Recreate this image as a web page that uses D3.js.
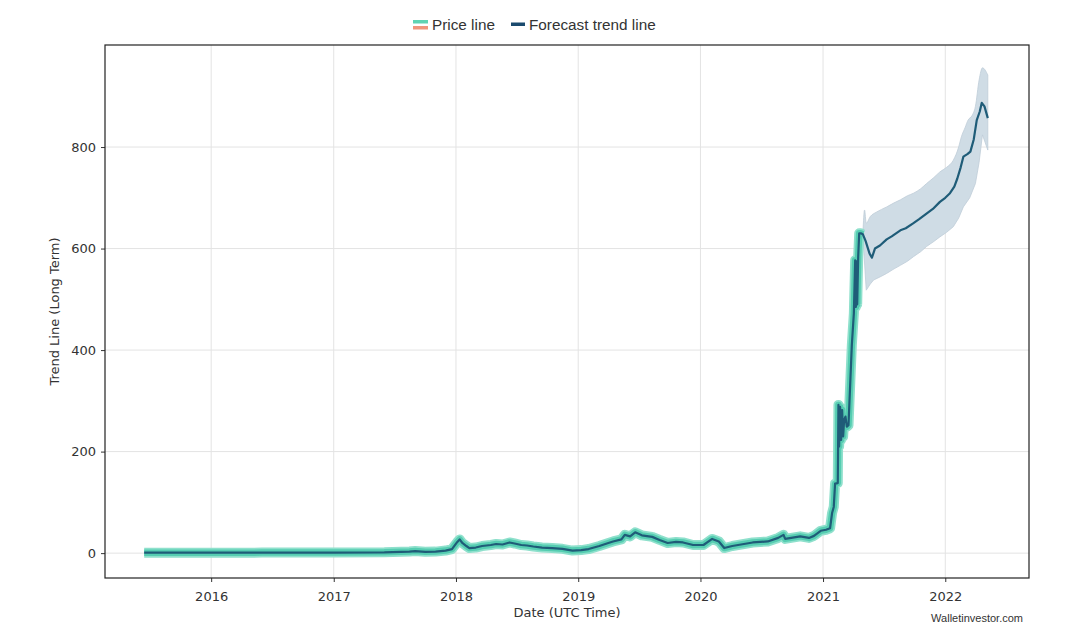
<!DOCTYPE html>
<html>
<head>
<meta charset="utf-8">
<script src="https://cdn.jsdelivr.net/npm/d3@7"></script>
<style>
  html, body { margin: 0; padding: 0; background: #ffffff; }
  svg { display: block; }
</style>
</head>
<body>
<svg id="chart" width="1065" height="638"></svg>
<script>
// ---------- DATA ----------
const priceDates = [
  "2015-06-15","2015-09-01","2016-01-01","2016-06-01","2017-01-01","2017-06-01",
  "2017-08-15","2017-09-01","2017-10-01","2017-11-01","2017-12-01","2017-12-20",
  "2018-01-05","2018-01-12","2018-01-20","2018-02-01","2018-02-10","2018-03-01",
  "2018-03-20","2018-04-15","2018-05-01","2018-05-20","2018-06-10","2018-06-25",
  "2018-07-15","2018-08-01","2018-08-20","2018-09-15","2018-10-15","2018-11-15",
  "2018-12-15","2019-01-10","2019-02-01","2019-03-05","2019-04-01","2019-04-15",
  "2019-05-10","2019-05-20","2019-06-05","2019-06-20","2019-07-10","2019-08-10",
  "2019-09-01","2019-09-25","2019-10-20","2019-11-10","2019-12-10","2020-01-10",
  "2020-02-05","2020-02-25","2020-03-12","2020-04-05","2020-05-01","2020-06-05",
  "2020-07-20","2020-08-20","2020-09-05","2020-09-10","2020-10-25","2020-11-20",
  "2020-12-05","2020-12-25","2021-01-10","2021-01-22","2021-01-28","2021-02-02",
  "2021-02-06","2021-02-14","2021-02-16","2021-02-18","2021-02-21","2021-02-24",
  "2021-02-27","2021-03-02","2021-03-05","2021-03-09","2021-03-13","2021-03-18",
  "2021-03-24","2021-03-28","2021-04-03","2021-04-07","2021-04-09","2021-04-11",
  "2021-04-13","2021-04-16","2021-04-19","2021-04-24","2021-04-30"
];
const priceValues = [
  0.8, 0.8, 0.9, 1, 1, 1.5,
  3, 4, 2.5, 3, 5, 8,
  22, 27, 20, 14, 10, 11,
  14, 16, 18, 17, 21, 19,
  16, 15, 13, 11, 10, 8.5,
  5, 6, 8, 14, 20, 23,
  27, 36, 33, 41, 35, 32,
  26, 20, 22, 21, 16, 16,
  28, 23, 10, 14, 17, 21,
  23, 30, 36, 28, 33, 30,
  34, 44, 46, 49, 79, 91,
  137, 138, 292, 210, 288, 223,
  282, 230, 262, 269, 249, 252,
  347, 410, 472, 577, 485, 575,
  490, 584, 630, 630, 628
];

const forecastDates = [
  "2021-04-30","2021-05-08","2021-05-20","2021-05-27","2021-06-05","2021-06-20",
  "2021-07-10","2021-07-25","2021-08-20","2021-09-05","2021-09-28","2021-10-15",
  "2021-11-06","2021-11-25","2021-12-16","2022-01-01","2022-01-15","2022-01-28",
  "2022-02-06","2022-02-16","2022-02-24","2022-03-08","2022-03-17","2022-03-27",
  "2022-04-05","2022-04-14","2022-04-20","2022-04-28","2022-05-08"
];
const forecastValues = [
  628, 615, 590, 582, 600, 606,
  618, 624, 636, 640, 650, 658,
  669, 678, 692, 700, 709, 722,
  738, 760, 781, 786, 791, 815,
  853, 870, 887, 880, 857
];

const bandUpperDates = [
  "2021-04-30","2021-05-05","2021-05-10","2021-05-22","2021-06-10","2021-07-10",
  "2021-08-01","2021-08-20","2021-09-10","2021-09-28","2021-10-20","2021-11-06",
  "2021-11-28","2021-12-16","2022-01-05","2022-01-25","2022-02-10","2022-02-18",
  "2022-03-01","2022-03-10","2022-03-22","2022-04-01","2022-04-12","2022-04-22",
  "2022-05-08"
];
const bandUpper = [
  630, 676, 650, 663, 672, 682,
  690, 696, 704, 709, 718, 728,
  740, 751, 760, 774, 800, 820,
  838, 853, 862, 880, 932, 956,
  942
];
const bandLowerDates = [
  "2021-04-30","2021-05-10","2021-05-22","2021-06-01","2021-06-20","2021-07-10",
  "2021-08-01","2021-08-20","2021-09-10","2021-09-28","2021-10-20","2021-11-06",
  "2021-11-28","2021-12-16","2022-01-05","2022-01-25","2022-02-10","2022-02-24",
  "2022-03-15","2022-04-01","2022-04-12","2022-04-22","2022-05-08"
];
const bandLower = [
  625, 518, 530, 538, 544, 551,
  560, 567, 575, 584, 594, 604,
  614, 623, 632, 643, 660, 682,
  700, 728, 770, 824, 794
];

const yTicks = [0, 200, 400, 600, 800];
const xTickYears = [2016, 2017, 2018, 2019, 2020, 2021, 2022];

// ---------- LAYOUT ----------
const svg = d3.select("#chart");
const M = { left: 105, right: 1029, top: 45, bottom: 578 };
const parse = d3.utcParse("%Y-%m-%d");

const x = d3.scaleUtc()
  .domain([parse("2015-02-18"), parse("2022-09-08")])
  .range([M.left, M.right]);
const y = d3.scaleLinear()
  .domain([-49, 1001])
  .range([M.bottom, M.top]);

const tickFont = "'DejaVu Sans', sans-serif";

// gridlines
const grid = svg.append("g");
grid.selectAll("line.vg").data(xTickYears).join("line")
  .attr("x1", d => x(Date.UTC(d, 0, 1))).attr("x2", d => x(Date.UTC(d, 0, 1)))
  .attr("y1", M.top).attr("y2", M.bottom)
  .attr("stroke", "#e3e3e3").attr("stroke-width", 1);
grid.selectAll("line.hg").data(yTicks).join("line")
  .attr("y1", d => y(d)).attr("y2", d => y(d))
  .attr("x1", M.left).attr("x2", M.right)
  .attr("stroke", "#e3e3e3").attr("stroke-width", 1);

// clip
svg.append("clipPath").attr("id", "clip").append("rect")
  .attr("x", M.left).attr("y", M.top)
  .attr("width", M.right - M.left).attr("height", M.bottom - M.top);
const plot = svg.append("g").attr("clip-path", "url(#clip)");

// confidence band: upper edge forward, lower edge backward
const upperPts = bandUpperDates.map((d, i) => [x(parse(d)), y(bandUpper[i])]);
const lowerPts = bandLowerDates.map((d, i) => [x(parse(d)), y(bandLower[i])]).reverse();
const edge = d3.line().curve(d3.curveMonotoneX);
const edgeRev = d3.line().curve(d3.curveLinear);
const bandPath = edge(upperPts) + "L" + edgeRev(lowerPts).slice(1) + "Z";
plot.append("path")
  .attr("d", bandPath)
  .attr("fill", "#cfdce5")
  .attr("stroke", "#bfcdd8")
  .attr("stroke-width", 0.8);

// price line (teal halo)
const priceData = priceDates.map((d, i) => ({ date: parse(d), v: priceValues[i] }));
const lineGen = d3.line().x(d => x(d.date)).y(d => y(d.v));
plot.append("path")
  .datum(priceData)
  .attr("d", lineGen)
  .attr("fill", "none")
  .attr("stroke", "#8fe0cc")
  .attr("stroke-width", 10)
  .attr("stroke-linejoin", "round");
plot.append("path")
  .datum(priceData)
  .attr("d", lineGen)
  .attr("fill", "none")
  .attr("stroke", "#55cdb1")
  .attr("stroke-width", 6.5)
  .attr("stroke-linejoin", "round");

// trend line over history + forecast
const trendData = priceData.concat(
  forecastDates.slice(1).map((d, i) => ({ date: parse(d), v: forecastValues[i + 1] }))
);
plot.append("path")
  .datum(trendData)
  .attr("d", lineGen)
  .attr("fill", "none")
  .attr("stroke", "#1f5c78")
  .attr("stroke-width", 2.2)
  .attr("stroke-linejoin", "round");

// axes
const xAxis = d3.axisBottom(x)
  .tickValues(xTickYears.map(yr => new Date(Date.UTC(yr, 0, 1))))
  .tickFormat(d3.utcFormat("%Y"))
  .tickSize(4).tickSizeOuter(0);
const gx = svg.append("g").attr("transform", `translate(0,${M.bottom})`).call(xAxis);
gx.select(".domain").remove();
gx.selectAll("line").attr("stroke", "#333");
gx.selectAll("text").attr("font-family", tickFont).attr("font-size", 13)
  .attr("fill", "#333").attr("dy", "1.2em");

const yAxis = d3.axisLeft(y).tickValues(yTicks).tickFormat(d3.format("d"))
  .tickSize(4).tickSizeOuter(0);
const gy = svg.append("g").attr("transform", `translate(${M.left},0)`).call(yAxis);
gy.select(".domain").remove();
gy.selectAll("line").attr("stroke", "#333");
gy.selectAll("text").attr("font-family", tickFont).attr("font-size", 13)
  .attr("fill", "#333").attr("x", -9);

// frame
svg.append("rect")
  .attr("x", M.left).attr("y", M.top)
  .attr("width", M.right - M.left).attr("height", M.bottom - M.top)
  .attr("fill", "none").attr("stroke", "#222").attr("stroke-width", 1.2);

// axis titles
svg.append("text")
  .attr("x", (M.left + M.right) / 2).attr("y", 617)
  .attr("text-anchor", "middle")
  .attr("font-family", tickFont).attr("font-size", 13).attr("fill", "#333")
  .text("Date (UTC Time)");
svg.append("text")
  .attr("transform", `translate(59,${(M.top + M.bottom) / 2}) rotate(-90)`)
  .attr("text-anchor", "middle")
  .attr("font-family", tickFont).attr("font-size", 13).attr("fill", "#333")
  .text("Trend Line (Long Term)");

// legend
const legFont = "'Liberation Sans', Arial, sans-serif";
const leg = svg.append("g");
leg.append("rect").attr("x", 413).attr("y", 20).attr("width", 15).attr("height", 3.5).attr("fill", "#5fd3b3");
leg.append("rect").attr("x", 413).attr("y", 26).attr("width", 15).attr("height", 3.5).attr("fill", "#f0957c");
leg.append("text").attr("x", 432).attr("y", 29.5)
  .attr("font-family", legFont).attr("font-size", 15.3).attr("fill", "#333").text("Price line");
leg.append("rect").attr("x", 511).attr("y", 22.5).attr("width", 14).attr("height", 3.5).attr("fill", "#1a4a6e");
leg.append("text").attr("x", 529).attr("y", 29.5)
  .attr("font-family", legFont).attr("font-size", 15.3).attr("fill", "#333").text("Forecast trend line");

// watermark
svg.append("text").attr("x", 1023).attr("y", 622).attr("text-anchor", "end")
  .attr("font-family", legFont).attr("font-size", 11).attr("fill", "#333")
  .text("Walletinvestor.com");
</script>
</body>
</html>
